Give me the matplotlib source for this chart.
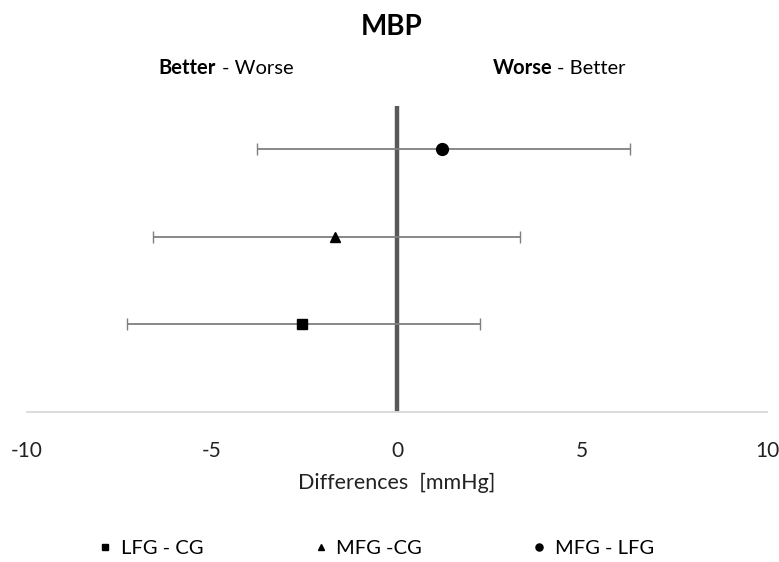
import numpy as np
import matplotlib.pyplot as plt

plt.rcParams['font.family'] = ['Lato', 'DejaVu Sans']
plt.rcParams['axes.unicode_minus'] = False

# comparisons (bottom to top)
groups = ['LFG - CG', 'MFG -CG', 'MFG - LFG']
markers = ['s', '^', 'o']
diff = [-2.58, -1.68, 1.22]
ci_low = [-7.30, -6.60, -3.78]
ci_high = [2.24, 3.33, 6.30]
ypos = [1, 2, 3]

fig = plt.figure(figsize=(7.79, 5.62), dpi=100)
ax = fig.add_axes([27 / 779, 1 - 411.5 / 562, 740 / 779, 306 / 562])

# zero line
ax.axvline(0, color='#595959', lw=3.2, zorder=1)

handles = []
for i in range(3):
    err = [[diff[i] - ci_low[i]], [ci_high[i] - diff[i]]]
    ax.errorbar(diff[i], ypos[i], xerr=err, fmt='none',
                ecolor='#7f7f7f', elinewidth=1.3, capsize=4, capthick=1.0,
                zorder=2)
    ms = 8.5 if markers[i] == 'o' else 7.5
    h, = ax.plot(diff[i], ypos[i], ls='none', marker=markers[i],
                 color='black', markersize=ms, zorder=3, label=groups[i])
    handles.append(h)

ax.set_xlim(-10, 10)
ax.set_ylim(0, 3.5)
ax.set_xticks([-10, -5, 0, 5, 10])
ax.set_yticks([])
for s in ['top', 'left', 'right']:
    ax.spines[s].set_visible(False)
ax.spines['bottom'].set_color('#d9d9d9')
ax.spines['bottom'].set_linewidth(1.3)
ax.tick_params(axis='x', length=0, pad=21, labelsize=15, colors='#222222')
ax.set_xlabel('Differences  [mmHg]', fontsize=15.5, labelpad=9, color='#222222')

# title and direction labels
fig.text(0.503, 1 - 27 / 562, 'MBP', ha='center', va='center',
         fontsize=20, fontweight='bold')
fig.text(158 / 779, 1 - 68 / 562, 'Better', ha='left', va='center',
         fontsize=14.5, fontweight='bold')
fig.text(222 / 779, 1 - 68 / 562, '- Worse', ha='left', va='center', fontsize=14.5)
fig.text(493 / 779, 1 - 68 / 562, 'Worse', ha='left', va='center',
         fontsize=14.5, fontweight='bold')
fig.text(557 / 779, 1 - 68 / 562, '- Better', ha='left', va='center', fontsize=14.5)

fig.legend(handles=handles, loc='center', bbox_to_anchor=(0.484, 1 - 548 / 562),
           ncol=3, frameon=False, fontsize=14.5, markerscale=0.6,
           handlelength=0.5, handletextpad=0.5, columnspacing=5.6)

fig.savefig('out.png', dpi=100)
